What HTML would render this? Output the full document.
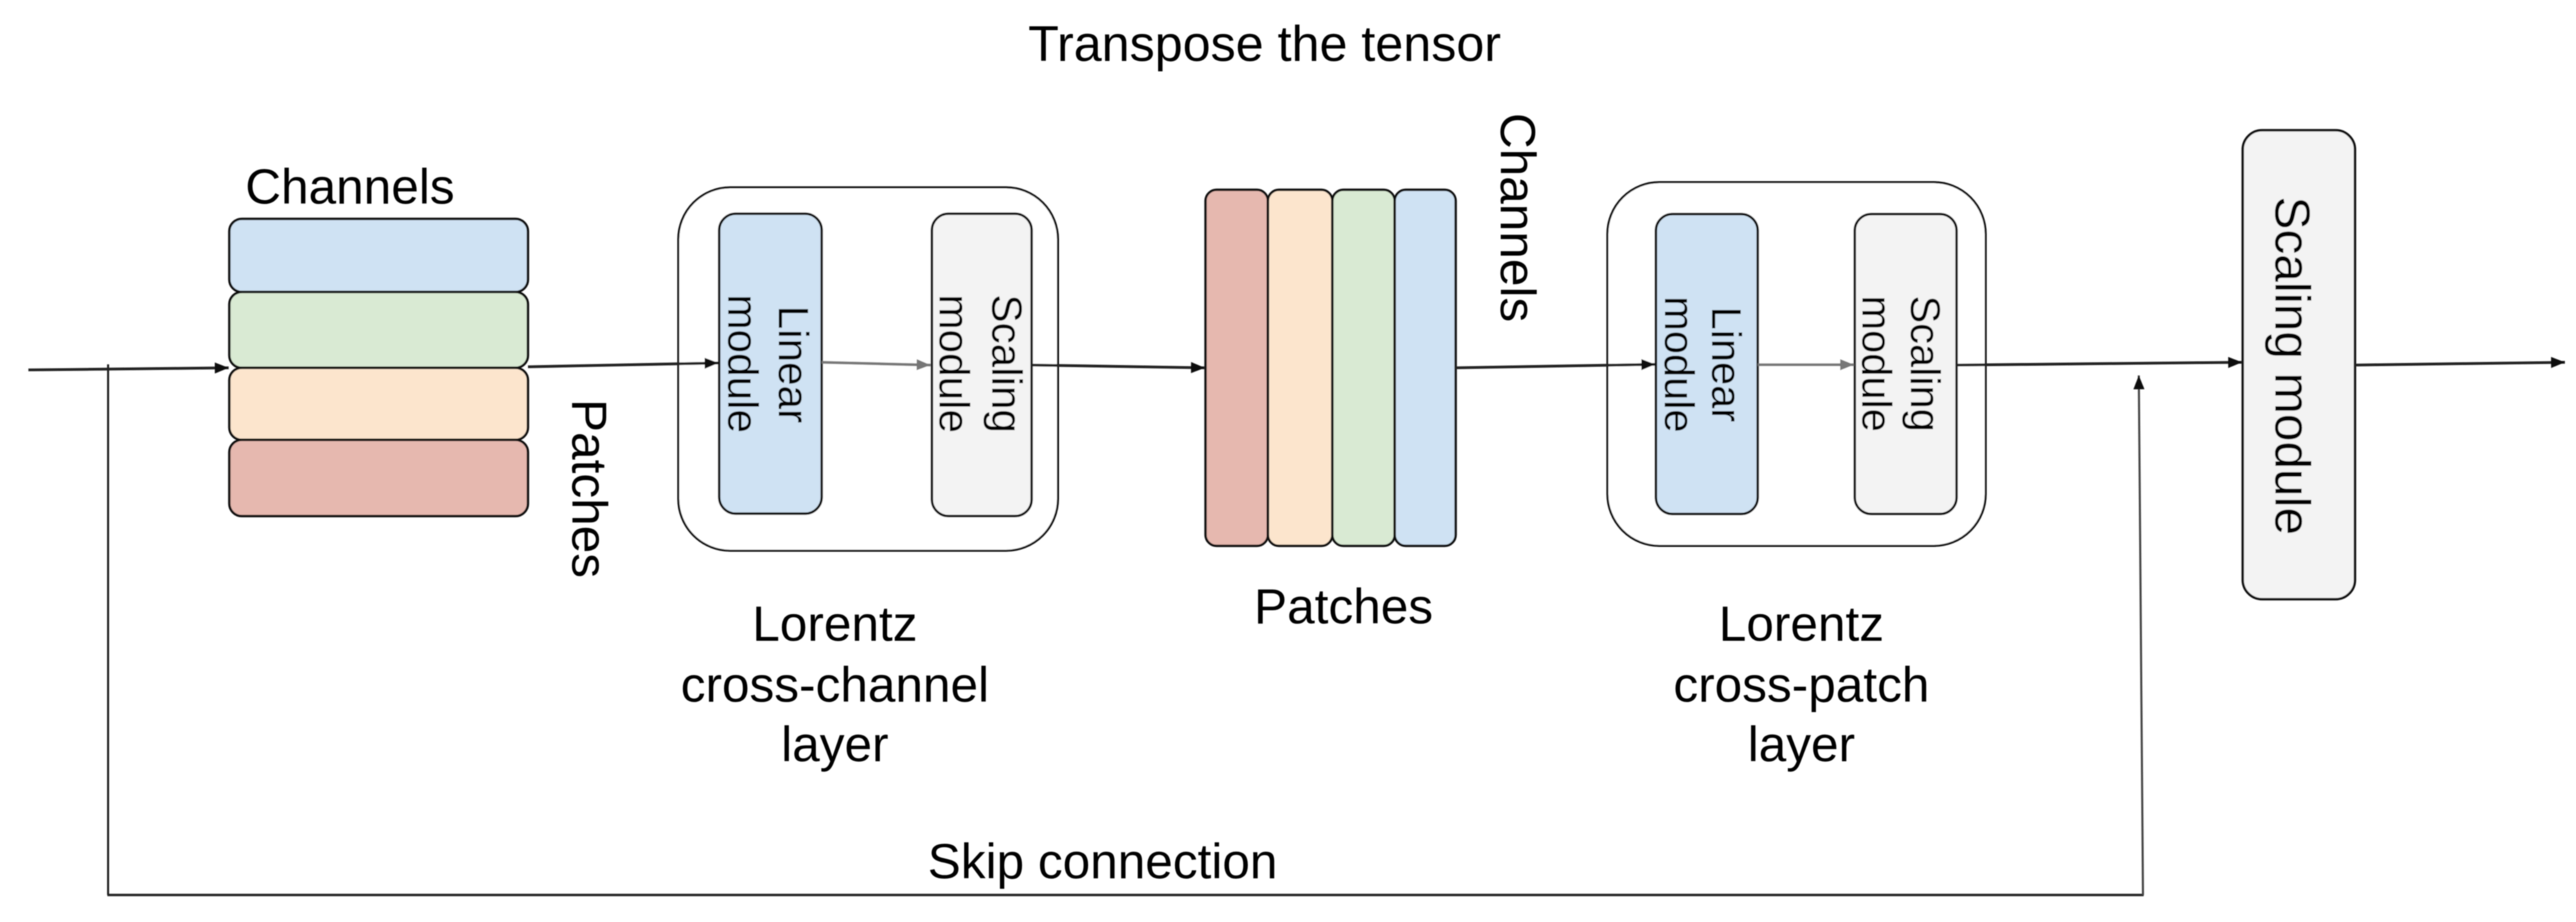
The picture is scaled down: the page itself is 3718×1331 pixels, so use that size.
<!DOCTYPE html>
<html>
<head>
<meta charset="utf-8">
<style>
html,body{margin:0;padding:0;background:#fff;}
svg{display:block;}
text{font-family:"Liberation Sans",Arial,sans-serif;fill:#000;}
</style>
</head>
<body>
<svg width="3718" height="1331" viewBox="0 0 3718 1331" xmlns="http://www.w3.org/2000/svg">
<defs>
<filter id="b" x="0" y="0" width="3718" height="1331" filterUnits="userSpaceOnUse"><feGaussianBlur stdDeviation="0.9"/></filter>
<marker id="a" markerUnits="userSpaceOnUse" markerWidth="22" markerHeight="20" refX="20" refY="9" orient="auto"><path d="M0 1L20 9L0 17Z" fill="#111"/></marker>
<marker id="g" markerUnits="userSpaceOnUse" markerWidth="22" markerHeight="20" refX="20" refY="9" orient="auto"><path d="M0 1L20 9L0 17Z" fill="#777"/></marker>
</defs>
<g filter="url(#b)">
<g stroke="#111" stroke-width="3.500">
<rect x="331" y="316" width="431" height="105.500" rx="18" fill="#cfe2f3"/>
<rect x="331" y="421.500" width="431" height="109.500" rx="18" fill="#d9ead3"/>
<rect x="331" y="531" width="431" height="104" rx="18" fill="#fce5cd"/>
<rect x="331" y="635" width="431" height="110" rx="18" fill="#e6b8af"/>

<rect x="979" y="270.500" width="548" height="524.500" rx="75" fill="#fff" stroke-width="3"/>
<rect x="1038" y="308.500" width="148" height="433" rx="24" fill="#cfe2f3"/>
<rect x="1345" y="308.500" width="144" height="436.500" rx="24" fill="#f3f3f3"/>

<rect x="1740" y="274" width="90" height="514" rx="16" fill="#e6b8af"/>
<rect x="1830" y="274" width="93" height="514" rx="16" fill="#fce5cd"/>
<rect x="1923" y="274" width="90" height="514" rx="16" fill="#d9ead3"/>
<rect x="2013" y="274" width="88" height="514" rx="16" fill="#cfe2f3"/>

<rect x="2320" y="263" width="546" height="525" rx="75" fill="#fff" stroke-width="3"/>
<rect x="2390" y="309" width="147" height="433" rx="24" fill="#cfe2f3"/>
<rect x="2677" y="309" width="147" height="433" rx="24" fill="#f3f3f3"/>

<rect x="3237" y="188" width="162" height="677" rx="28" fill="#f3f3f3"/>
</g>

<g fill="none" stroke="#222" stroke-width="4">
<line x1="41" y1="534" x2="330" y2="531" marker-end="url(#a)"/>
<line x1="762" y1="529.500" x2="1037" y2="524" marker-end="url(#a)"/>
<line x1="1489" y1="527" x2="1739" y2="531" marker-end="url(#a)"/>
<line x1="2101" y1="531" x2="2389" y2="526" marker-end="url(#a)"/>
<line x1="2824" y1="527" x2="3236" y2="523" marker-end="url(#a)"/>
<line x1="3399" y1="527" x2="3702" y2="523" marker-end="url(#a)"/>
<line x1="1186" y1="523" x2="1343" y2="527" stroke="#777" marker-end="url(#g)"/>
<line x1="2537" y1="526.500" x2="2676" y2="526.500" stroke="#777" marker-end="url(#g)"/>
</g>
<g fill="none" stroke="#222">
<line x1="156" y1="526" x2="156" y2="1292" stroke-width="3"/>
<line x1="155" y1="1292" x2="3094" y2="1292" stroke-width="3.500"/>
<line x1="3093" y1="1292" x2="3087" y2="542" stroke-width="3" stroke="#444" marker-end="url(#a)"/>
</g>

<g font-size="71.500">
<text x="1484" y="88" font-size="72.500">Transpose the tensor</text>
<text x="354" y="294">Channels</text>
<text x="1205" y="925" text-anchor="middle">Lorentz</text>
<text x="1205" y="1013" text-anchor="middle">cross-channel</text>
<text x="1205" y="1099" text-anchor="middle">layer</text>
<text x="1810" y="900">Patches</text>
<text x="2600" y="925" text-anchor="middle">Lorentz</text>
<text x="2600" y="1013" text-anchor="middle">cross-patch</text>
<text x="2600" y="1099" text-anchor="middle">layer</text>
<text x="1339" y="1268">Skip connection</text>
<text transform="translate(826,576) rotate(90)">Patches</text>
<text transform="translate(2166,163) rotate(90)">Channels</text>
<text transform="translate(3284,528) rotate(90)" text-anchor="middle">Scaling module</text>
</g>
<g font-size="61" text-anchor="middle">
<text transform="translate(1124,526) rotate(90)">Linear</text>
<text transform="translate(1051,525) rotate(90)">module</text>
<text transform="translate(1432,525) rotate(90)">Scaling</text>
<text transform="translate(1356,525) rotate(90)">module</text>
<text transform="translate(2471,526) rotate(90)" font-size="60">Linear</text>
<text transform="translate(2403,526) rotate(90)" font-size="60">module</text>
<text transform="translate(2758,525) rotate(90)" font-size="60">Scaling</text>
<text transform="translate(2688,525) rotate(90)" font-size="60">module</text>
</g>
</g>
</svg>
</body>
</html>
